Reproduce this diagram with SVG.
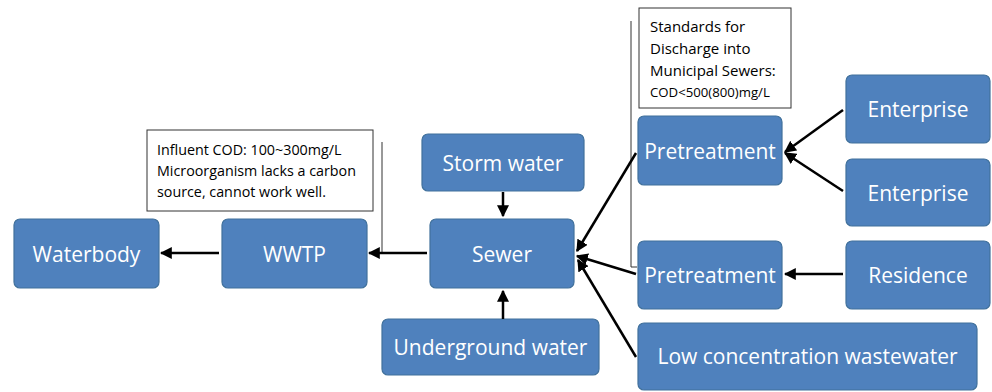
<svg xmlns="http://www.w3.org/2000/svg" width="992" height="392" viewBox="0 0 992 392">
<defs>
<marker id="ah" viewBox="0 0 10 10" refX="9" refY="5" markerWidth="4.8" markerHeight="4.8" orient="auto" markerUnits="strokeWidth">
<path d="M0,0 L10,5 L0,10 z" fill="#000"/>
</marker>
<style>
.n rect{fill:#4f81bd;stroke:#41719c;stroke-width:1.2}
.n text{fill:#fff;font-family:"Open Sans","Liberation Sans",sans-serif;font-size:21px;text-anchor:middle;dominant-baseline:central}
.c line{stroke:#000;stroke-width:2.5;marker-end:url(#ah)}
.note rect{fill:#fff;stroke:#333;stroke-width:1}
.note text{fill:#000;font-family:"Open Sans","Liberation Sans",sans-serif;font-size:14.3px}
.lead{stroke:#333;stroke-width:1;fill:none}
</style>
</defs>
<rect width="992" height="392" fill="#fff"/>
<g id="note1" class="note">
<rect x="147" y="130" width="226" height="81"/>
<text x="157" y="155">Influent COD: 100~300mg/L</text>
<text x="157" y="176">Microorganism lacks a carbon</text>
<text x="157" y="197">source, cannot work well.</text>
<path class="lead" d="M382,142 V253"/>
</g>
<g id="note2" class="note">
<rect x="639" y="8" width="152" height="100"/>
<text x="650" y="32" style="font-size:15px">Standards for</text>
<text x="650" y="54" style="font-size:15px">Discharge into</text>
<text x="650" y="76" style="font-size:15px">Municipal Sewers:</text>
<text x="650" y="97" style="font-size:13.2px">COD&lt;500(800)mg/L</text>
<path class="lead" d="M631,21 V267 H637"/>
</g>
<g id="waterbody" class="n"><rect x="14" y="219" width="145" height="69" rx="6"/><text x="86.5" y="253.5">Waterbody</text></g>
<g id="wwtp" class="n"><rect x="222" y="219" width="145" height="69" rx="6"/><text x="294.5" y="253.5">WWTP</text></g>
<g id="sewer" class="n"><rect x="430" y="219" width="144" height="69" rx="6"/><text x="502" y="253.5">Sewer</text></g>
<g id="storm" class="n"><rect x="422" y="134" width="162" height="57" rx="6"/><text x="503" y="162.5">Storm water</text></g>
<g id="underground" class="n"><rect x="382" y="319" width="217" height="56" rx="6"/><text x="490.5" y="347">Underground water</text></g>
<g id="pre1" class="n"><rect x="638" y="116" width="144" height="69" rx="6"/><text x="710" y="150.5">Pretreatment</text></g>
<g id="pre2" class="n"><rect x="638" y="241" width="144" height="68" rx="6"/><text x="710" y="274.5">Pretreatment</text></g>
<g id="lowconc" class="n"><rect x="638" y="323" width="339" height="67" rx="6"/><text x="807.5" y="356">Low concentration wastewater</text></g>
<g id="ent1" class="n"><rect x="846" y="75" width="144" height="68" rx="6"/><text x="918" y="109">Enterprise</text></g>
<g id="ent2" class="n"><rect x="846" y="159" width="144" height="67" rx="6"/><text x="918" y="192.5">Enterprise</text></g>
<g id="residence" class="n"><rect x="846" y="241" width="144" height="68" rx="6"/><text x="918" y="274.5">Residence</text></g>
<g id="connectors" class="c">
<line x1="219" y1="253" x2="161" y2="253"/>
<line x1="427" y1="253" x2="369" y2="253"/>
<line x1="503" y1="192" x2="503" y2="216"/>
<line x1="503" y1="319" x2="503" y2="291"/>
<line x1="636" y1="153" x2="577" y2="251"/>
<line x1="636" y1="274" x2="577" y2="256"/>
<line x1="636" y1="357" x2="578" y2="260"/>
<line x1="843" y1="110" x2="785" y2="152"/>
<line x1="843" y1="191" x2="785" y2="153"/>
<line x1="843" y1="274" x2="785" y2="274"/>
</g>
</svg>
